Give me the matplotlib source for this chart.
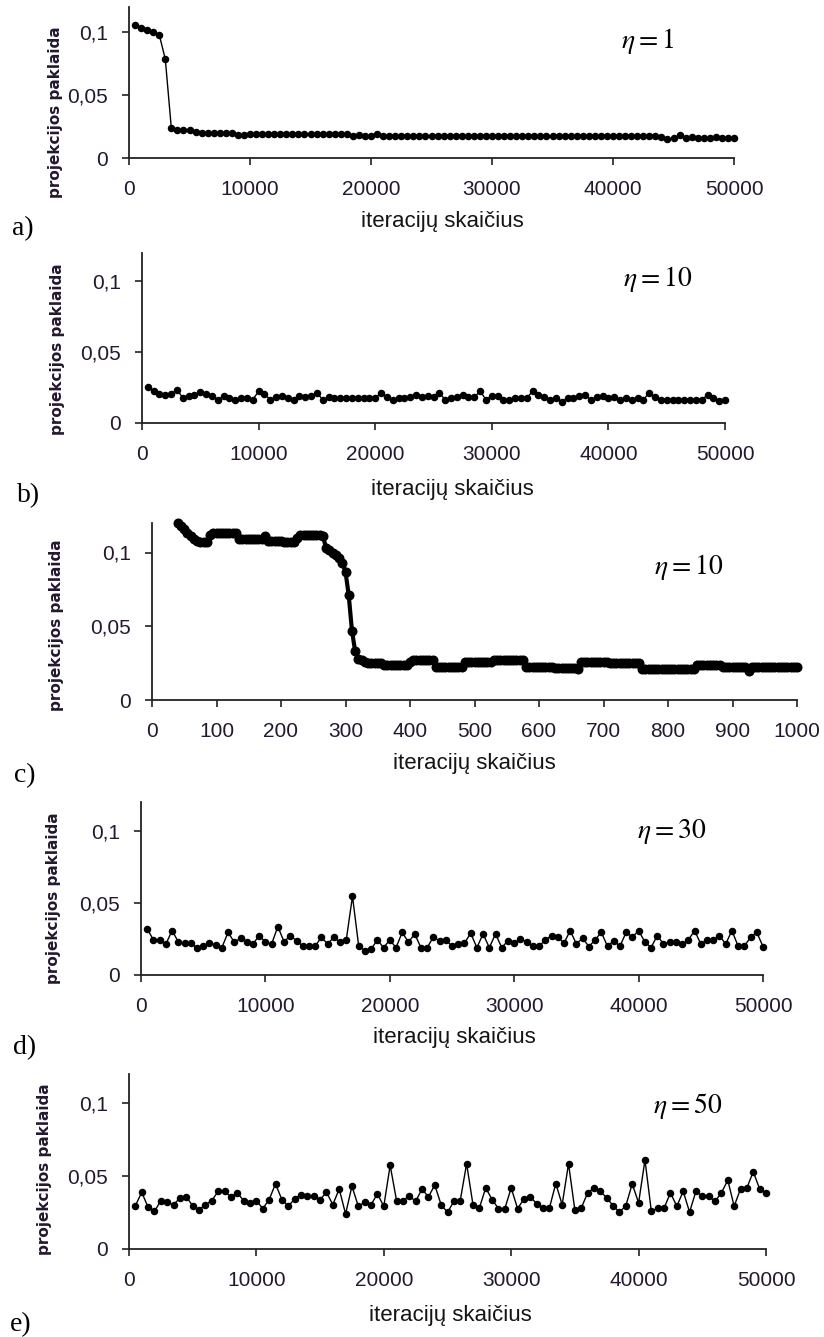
import numpy as np
import matplotlib
matplotlib.use("Agg")
import matplotlib.pyplot as plt

plt.rcParams["mathtext.fontset"] = "stix"

W, H = 824, 1337

# iteration counts at which the projection error was recorded
iters_long = np.arange(500, 50001, 500)
iters_short = np.arange(40, 1001, 5)

# projection error, eta = 1
err_eta1 = [
    0.1055, 0.1035, 0.1015, 0.1000, 0.0980, 0.0785, 0.0235, 0.0220, 0.0220, 0.0220,
    0.0210, 0.0200, 0.0200, 0.0200, 0.0200, 0.0200, 0.0200, 0.0182, 0.0185, 0.0190,
    0.0190, 0.0190, 0.0190, 0.0190, 0.0190, 0.0190, 0.0190, 0.0190, 0.0190, 0.0190,
    0.0190, 0.0190, 0.0190, 0.0190, 0.0190, 0.0190, 0.0175, 0.0185, 0.0175, 0.0178,
    0.0190, 0.0175, 0.0175, 0.0175, 0.0175, 0.0175, 0.0175, 0.0175, 0.0175, 0.0175,
    0.0175, 0.0175, 0.0175, 0.0175, 0.0175, 0.0175, 0.0175, 0.0175, 0.0175, 0.0175,
    0.0175, 0.0175, 0.0175, 0.0175, 0.0175, 0.0175, 0.0175, 0.0175, 0.0175, 0.0175,
    0.0175, 0.0175, 0.0175, 0.0175, 0.0175, 0.0175, 0.0175, 0.0175, 0.0175, 0.0175,
    0.0175, 0.0175, 0.0175, 0.0175, 0.0175, 0.0175, 0.0175, 0.0165, 0.0150, 0.0155,
    0.0180, 0.0160, 0.0165, 0.0160, 0.0160, 0.0155, 0.0165, 0.0155, 0.0160, 0.0160,
]

# projection error, eta = 10 (50000 iterations)
err_eta10 = [
    0.0252, 0.0229, 0.0205, 0.0200, 0.0205, 0.0236, 0.0177, 0.0189, 0.0196, 0.0219,
    0.0205, 0.0189, 0.0165, 0.0189, 0.0177, 0.0165, 0.0177, 0.0177, 0.0165, 0.0224,
    0.0205, 0.0165, 0.0182, 0.0189, 0.0177, 0.0165, 0.0189, 0.0182, 0.0189, 0.0212,
    0.0165, 0.0182, 0.0177, 0.0177, 0.0177, 0.0177, 0.0177, 0.0177, 0.0177, 0.0177,
    0.0212, 0.0182, 0.0165, 0.0177, 0.0177, 0.0182, 0.0196, 0.0182, 0.0189, 0.0182,
    0.0212, 0.0165, 0.0177, 0.0182, 0.0196, 0.0182, 0.0182, 0.0224, 0.0165, 0.0189,
    0.0189, 0.0165, 0.0165, 0.0177, 0.0177, 0.0177, 0.0224, 0.0200, 0.0182, 0.0165,
    0.0177, 0.0149, 0.0177, 0.0177, 0.0189, 0.0196, 0.0165, 0.0182, 0.0189, 0.0177,
    0.0182, 0.0165, 0.0177, 0.0165, 0.0177, 0.0165, 0.0212, 0.0182, 0.0165, 0.0165,
    0.0165, 0.0165, 0.0165, 0.0165, 0.0165, 0.0165, 0.0196, 0.0177, 0.0153, 0.0165,
]

# projection error, eta = 10 (first 1000 iterations)
err_eta10_short = [
    0.120, 0.118, 0.116, 0.113, 0.111, 0.109, 0.108, 0.107, 0.107, 0.107,
    0.112, 0.113, 0.113, 0.113, 0.113, 0.113, 0.113, 0.113, 0.113, 0.109,
    0.109, 0.109, 0.109, 0.109, 0.109, 0.109, 0.109, 0.111, 0.108, 0.108,
    0.108, 0.108, 0.108, 0.107, 0.107, 0.107, 0.107, 0.110, 0.112, 0.112,
    0.112, 0.112, 0.112, 0.112, 0.112, 0.111, 0.103, 0.102, 0.100, 0.098,
    0.096, 0.093, 0.087, 0.071, 0.047, 0.033, 0.028, 0.027, 0.026, 0.025,
    0.025, 0.025, 0.025, 0.025, 0.024, 0.024, 0.024, 0.024, 0.024, 0.024,
    0.024, 0.024, 0.026, 0.027, 0.027, 0.027, 0.027, 0.027, 0.027, 0.027,
    0.0225, 0.0225, 0.0225, 0.0225, 0.0225, 0.0225, 0.0225, 0.0225, 0.0225, 0.026,
    0.026, 0.026, 0.026, 0.026, 0.026, 0.026, 0.026, 0.026, 0.027, 0.027,
    0.027, 0.027, 0.027, 0.027, 0.027, 0.027, 0.027, 0.027, 0.0225, 0.0225,
    0.0225, 0.0225, 0.0225, 0.0225, 0.0225, 0.0225, 0.0225, 0.022, 0.022, 0.022,
    0.022, 0.022, 0.022, 0.022, 0.021, 0.026, 0.026, 0.026, 0.026, 0.026,
    0.026, 0.026, 0.026, 0.026, 0.025, 0.025, 0.025, 0.025, 0.025, 0.025,
    0.025, 0.025, 0.025, 0.025, 0.021, 0.021, 0.021, 0.021, 0.021, 0.021,
    0.021, 0.021, 0.021, 0.021, 0.021, 0.021, 0.021, 0.021, 0.021, 0.021,
    0.021, 0.024, 0.024, 0.024, 0.024, 0.024, 0.024, 0.024, 0.024, 0.0225,
    0.0225, 0.0225, 0.0225, 0.0225, 0.0225, 0.0225, 0.0225, 0.020, 0.0225, 0.0225,
    0.0225, 0.0225, 0.0225, 0.0225, 0.0225, 0.0225, 0.0225, 0.0225, 0.0225, 0.0225,
    0.0225, 0.0225, 0.0225,
]

# projection error, eta = 30
err_eta30 = [
    0.0320, 0.0243, 0.0243, 0.0215, 0.0308, 0.0230, 0.0220, 0.0220, 0.0190, 0.0200,
    0.0220, 0.0210, 0.0190, 0.0296, 0.0227, 0.0255, 0.0230, 0.0215, 0.0273, 0.0230,
    0.0215, 0.0336, 0.0230, 0.0273, 0.0238, 0.0200, 0.0200, 0.0200, 0.0262, 0.0215,
    0.0262, 0.0227, 0.0243, 0.0546, 0.0200, 0.0169, 0.0180, 0.0243, 0.0190, 0.0243,
    0.0190, 0.0296, 0.0227, 0.0285, 0.0190, 0.0190, 0.0262, 0.0238, 0.0243, 0.0200,
    0.0215, 0.0220, 0.0290, 0.0190, 0.0285, 0.0190, 0.0285, 0.0190, 0.0238, 0.0220,
    0.0250, 0.0230, 0.0200, 0.0200, 0.0243, 0.0273, 0.0266, 0.0220, 0.0308, 0.0215,
    0.0257, 0.0197, 0.0243, 0.0296, 0.0200, 0.0238, 0.0200, 0.0296, 0.0262, 0.0308,
    0.0230, 0.0190, 0.0273, 0.0215, 0.0230, 0.0230, 0.0215, 0.0243, 0.0308, 0.0215,
    0.0243, 0.0243, 0.0273, 0.0215, 0.0308, 0.0200, 0.0200, 0.0262, 0.0296, 0.0197,
]

# projection error, eta = 50
err_eta50 = [
    0.0297, 0.0389, 0.0286, 0.0258, 0.0332, 0.0320, 0.0304, 0.0350, 0.0357, 0.0297,
    0.0270, 0.0304, 0.0332, 0.0396, 0.0396, 0.0357, 0.0385, 0.0332, 0.0316, 0.0332,
    0.0277, 0.0339, 0.0447, 0.0339, 0.0293, 0.0343, 0.0373, 0.0362, 0.0362, 0.0339,
    0.0389, 0.0304, 0.0412, 0.0240, 0.0431, 0.0293, 0.0320, 0.0304, 0.0378, 0.0293,
    0.0574, 0.0332, 0.0332, 0.0362, 0.0327, 0.0412, 0.0357, 0.0438, 0.0304, 0.0251,
    0.0327, 0.0332, 0.0585, 0.0304, 0.0281, 0.0419, 0.0339, 0.0277, 0.0277, 0.0419,
    0.0277, 0.0343, 0.0357, 0.0311, 0.0281, 0.0281, 0.0449, 0.0304, 0.0585, 0.0265,
    0.0281, 0.0385, 0.0419, 0.0396, 0.0350, 0.0297, 0.0253, 0.0297, 0.0447, 0.0316,
    0.0611, 0.0258, 0.0281, 0.0281, 0.0385, 0.0293, 0.0396, 0.0253, 0.0396, 0.0362,
    0.0362, 0.0327, 0.0385, 0.0472, 0.0293, 0.0412, 0.0419, 0.0530, 0.0412, 0.0385,
]

y_ticks = [0, 0.05, 0.1]
y_tick_labels = ["0", "0,05", "0,1"]
x_ticks_long = [0, 10000, 20000, 30000, 40000, 50000]
x_ticks_short = [0, 100, 200, 300, 400, 500, 600, 700, 800, 900, 1000]
eta_labels = [r"$\eta = 1$", r"$\eta = 10$", r"$\eta = 10$", r"$\eta = 30$", r"$\eta = 50$"]
panel_letters = ["a)", "b)", "c)", "d)", "e)"]

TEXT_COL = "#24182f"
SANS = "Liberation Sans"

# panel layout in pixels: left, right, x-axis row, top of y-axis
panels = [
    dict(box=(129, 734, 158, 7), x=iters_long, y=err_eta1, xmax=50000, xt=x_ticks_long,
         eta=(648, 41), letter=(23, 229), ylab=(56, 112), xlab=(442, 221), ms=4.4, lw=1.0),
    dict(box=(142, 725, 423, 253), x=iters_long, y=err_eta10, xmax=50000, xt=x_ticks_long,
         eta=(658, 279), letter=(29, 496), ylab=(58, 349), xlab=(452, 490), ms=4.4, lw=1.0),
    dict(box=(152, 797, 700, 523), x=iters_short, y=err_eta10_short, xmax=1000, xt=x_ticks_short,
         eta=(689, 567), letter=(25, 776), ylab=(57, 625), xlab=(474, 763), ms=6.2, lw=3.0),
    dict(box=(141, 763, 975, 802), x=iters_long, y=err_eta30, xmax=50000, xt=x_ticks_long,
         eta=(672, 831), letter=(25, 1048), ylab=(54, 898), xlab=(454, 1037), ms=4.4, lw=1.0),
    dict(box=(129, 766, 1249, 1074), x=iters_long, y=err_eta50, xmax=50000, xt=x_ticks_long,
         eta=(688, 1106), letter=(21, 1325), ylab=(45, 1169), xlab=(450, 1315), ms=4.4, lw=1.0),
]

fig = plt.figure(figsize=(W / 100, H / 100), dpi=100)

for i, p in enumerate(panels):
    left, right, row, top = p["box"]
    ax = fig.add_axes([left / W, 1 - row / H, (right - left) / W, (row - top) / H])

    def to_axes(px, py):
        return (px - left) / (right - left), (row - py) / (row - top)

    ax.plot(p["x"], p["y"], color="black", lw=p["lw"], marker="o", ms=p["ms"],
            markerfacecolor="black", markeredgecolor="black", clip_on=False)
    ax.set_xlim(0, p["xmax"])
    ax.set_ylim(0, 0.12)

    for side in ("top", "right"):
        ax.spines[side].set_visible(False)
    for side in ("left", "bottom"):
        ax.spines[side].set_color("#222222")
        ax.spines[side].set_linewidth(1.3)

    ax.set_yticks(y_ticks)
    ax.set_yticklabels(y_tick_labels)
    ax.set_xticks(p["xt"])
    ax.set_xticklabels([str(t) for t in p["xt"]])
    ax.tick_params(axis="both", direction="out", length=5, width=1.2, color="#222222",
                   labelsize=15, labelcolor=TEXT_COL)
    ax.tick_params(axis="x", pad=11)
    ax.tick_params(axis="y", pad=10)
    for lab in ax.get_xticklabels() + ax.get_yticklabels():
        lab.set_fontfamily(SANS)

    ax.set_xlabel("iteracijų skaičius", fontsize=16, fontfamily=SANS, color="#141414")
    ax.xaxis.set_label_coords(*to_axes(*p["xlab"]))
    ax.xaxis.label.set_va("center")

    ax.set_ylabel("projekcijos paklaida", fontsize=11, fontfamily="DejaVu Sans",
                  fontweight="bold", color=TEXT_COL)
    ax.yaxis.set_label_coords(*to_axes(*p["ylab"]))
    ax.yaxis.label.set_va("center")

    ex, ey = to_axes(*p["eta"])
    ax.text(ex, ey, eta_labels[i], transform=ax.transAxes, fontsize=20,
            ha="center", va="center", color="black")

    lx, ly = p["letter"]
    fig.text(lx / W, 1 - ly / H, panel_letters[i], fontsize=20, fontfamily="Liberation Serif",
             ha="center", va="center", color="black")

fig.savefig("out.png", dpi=100, facecolor="white")
